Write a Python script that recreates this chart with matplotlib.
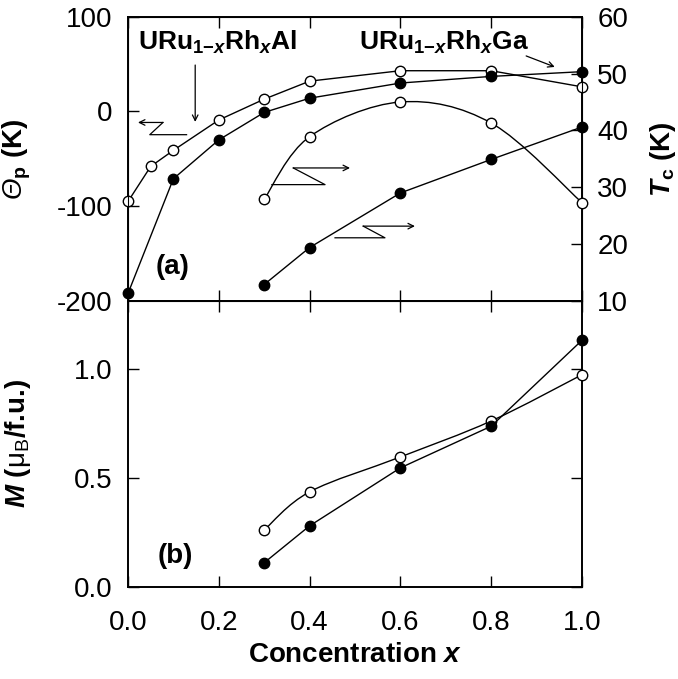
import numpy as np
import matplotlib
matplotlib.use("Agg")
import matplotlib.pyplot as plt
from matplotlib.path import Path
from matplotlib.patches import PathPatch

plt.rcParams['font.family'] = ['Liberation Sans', 'DejaVu Sans']
plt.rcParams['axes.unicode_minus'] = False
plt.rcParams['mathtext.fontset'] = 'custom'
plt.rcParams['mathtext.rm'] = 'Liberation Sans'
plt.rcParams['mathtext.it'] = 'Liberation Sans:italic'
plt.rcParams['mathtext.bf'] = 'Liberation Sans:bold'
plt.rcParams['mathtext.bfit'] = 'Liberation Sans:italic:bold'

# --- data ---
# (a) paramagnetic Curie temperature, left axis
x_theta = [0.0, 0.05, 0.1, 0.2, 0.3, 0.4, 0.6, 0.8, 1.0]
theta_open = [-95, -58, -41, -9, 13, 32, 43, 43, 26]
x_theta_f = [0.0, 0.1, 0.2, 0.3, 0.4, 0.6, 0.8, 1.0]
theta_filled = [-192, -71, -30, -1, 14, 30, 37, 42]

# (a) Curie temperature, right axis
x_tc = [0.3, 0.4, 0.6, 0.8, 1.0]
tc_open = [27.9, 38.9, 45.0, 41.3, 27.3]
tc_filled = [12.9, 19.4, 29.0, 34.9, 40.6]

# (b) ordered moment
x_m = [0.3, 0.4, 0.6, 0.8, 1.0]
m_open = [0.26, 0.435, 0.595, 0.76, 0.972]
m_filled = [0.11, 0.279, 0.545, 0.736, 1.13]

theta_ticks = [-200, -100, 0, 100]
tc_ticks = [10, 20, 30, 40, 50, 60]
m_ticks = [0.0, 0.5, 1.0]
x_ticks = [0.0, 0.2, 0.4, 0.6, 0.8, 1.0]

FS = 20
LW = 1.0
MS = 7.5


def smooth(ax, xs, ys, **kw):
    # Catmull-Rom curve drawn as cubic Bezier segments in data space
    xs = np.asarray(xs, float)
    ys = np.asarray(ys, float)
    px = np.concatenate([[xs[0]], xs, [xs[-1]]])
    py = np.concatenate([[ys[0]], ys, [ys[-1]]])
    verts = [(xs[0], ys[0])]
    codes = [Path.MOVETO]
    for i in range(1, len(px) - 2):
        c1 = (px[i] + (px[i + 1] - px[i - 1]) / 6, py[i] + (py[i + 1] - py[i - 1]) / 6)
        c2 = (px[i + 1] - (px[i + 2] - px[i]) / 6, py[i + 1] - (py[i + 2] - py[i]) / 6)
        verts += [c1, c2, (px[i + 1], py[i + 1])]
        codes += [Path.CURVE4] * 3
    ax.add_patch(PathPatch(Path(verts, codes), fc='none', ec='k', lw=LW, **kw))


def style(ax):
    ax.tick_params(direction='in', length=8, width=1.0, labelsize=FS,
                   top=True, pad=11)
    for s in ax.spines.values():
        s.set_linewidth(1.4)


fig = plt.figure(figsize=(6.78, 6.79), dpi=100)
L, W = 0.1888, 0.6696
ax1 = fig.add_axes([L, 0.5567, W, 0.4187])
ax2 = fig.add_axes([L, 0.1359, W, 0.4208])
ax1t = ax1.twinx()

open_kw = dict(marker='o', ms=MS, mfc='white', mec='k', mew=1.0, clip_on=False, zorder=5)
fill_kw = dict(marker='o', ms=MS, mfc='k', mec='k', mew=1.0, clip_on=False, zorder=5)

# panel (a)
ax1.plot(x_theta, theta_open, color='k', lw=LW, **open_kw)
ax1.plot(x_theta_f, theta_filled, color='k', lw=LW, **fill_kw)
smooth(ax1t, x_tc, tc_open)
ax1t.plot(x_tc, tc_open, ls='none', **open_kw)
ax1t.plot(x_tc, tc_filled, color='k', lw=LW, **fill_kw)

ax1.set_xlim(0, 1)
ax1.set_ylim(-200, 100)
ax1.set_yticks(theta_ticks)
ax1.set_xticks(x_ticks)
ax1.set_xticklabels([])
ax1t.set_ylim(10, 60)
ax1t.set_yticks(tc_ticks)
style(ax1)
ax1.tick_params(right=False)
ax1t.tick_params(direction='in', length=8, width=1.0, labelsize=FS, pad=11)

# italic theta as plain text, the rest as bold mathtext
ax1.set_ylabel(r'Θ$_{\mathbf{p}}$ $\mathbf{(K)}$', fontsize=FS, fontstyle='italic')
ax1.yaxis.set_label_coords(-0.21, 0.5)
ax1t.set_ylabel(r'$\mathbfit{T}_{\mathbf{c}}$ (K)', fontsize=FS, fontweight='bold')
ax1t.yaxis.set_label_coords(1.145, 0.5)

ax1.text(0.022, 65, r'$\mathbf{URu}_{\mathbf{1{-}}\mathbfit{x}}\mathbf{Rh}_{\mathbfit{x}}\mathbf{Al}$',
         fontsize=19, ha='left', va='baseline')
ax1.text(0.509, 65, r'$\mathbf{URu}_{\mathbf{1{-}}\mathbfit{x}}\mathbf{Rh}_{\mathbfit{x}}\mathbf{Ga}$',
         fontsize=19, ha='left', va='baseline')
ax1.text(0.099, -164, '(a)', fontsize=FS, fontweight='bold', ha='center', va='center')

arrow = dict(arrowstyle='->', color='k', lw=0.9, shrinkA=0, shrinkB=0)
ax1.annotate('', xy=(0.148, -11), xytext=(0.148, 49), arrowprops=arrow)
ax1.annotate('', xy=(0.94, 47), xytext=(0.877, 58.6), arrowprops=arrow)


def zigzag(pts):
    xs = [p[0] for p in pts]
    ys = [p[1] for p in pts]
    ax1.plot(xs[:-1], ys[:-1], color='k', lw=0.9)
    ax1.annotate('', xy=pts[-1], xytext=pts[-2], arrowprops=arrow)


zigzag([(0.129, -24.5), (0.048, -24.5), (0.077, -11.6), (0.022, -11.6)])
zigzag([(0.317, -77.2), (0.434, -77.2), (0.364, -59.6), (0.489, -59.6)])
zigzag([(0.456, -133.3), (0.566, -133.3), (0.518, -121), (0.632, -121)])

# panel (b)
smooth(ax2, x_m, m_open)
ax2.plot(x_m, m_open, ls='none', **open_kw)
ax2.plot(x_m, m_filled, color='k', lw=LW, **fill_kw)
ax2.set_xlim(0, 1)
ax2.set_ylim(0, 1.31)
ax2.set_yticks(m_ticks)
ax2.set_yticklabels(['0.0', '0.5', '1.0'])
ax2.set_xticks(x_ticks)
ax2.set_xticklabels(['0.0', '0.2', '0.4', '0.6', '0.8', '1.0'])
style(ax2)
ax2.tick_params(right=True)
ax2.tick_params(axis='x', pad=17)
ax2.set_ylabel(r'$\mathbfit{M}$ ($\mathrm{μ}_{\mathrm{B}}$/f.u.)', fontsize=FS, fontweight='bold')
ax2.yaxis.set_label_coords(-0.21, 0.5)
ax2.set_xlabel(r'Concentration $\mathbfit{x}$', fontsize=FS, fontweight='bold')
ax2.text(0.104, 0.14, '(b)', fontsize=FS, fontweight='bold', ha='center', va='center')

fig.savefig('out.png', dpi=100)
